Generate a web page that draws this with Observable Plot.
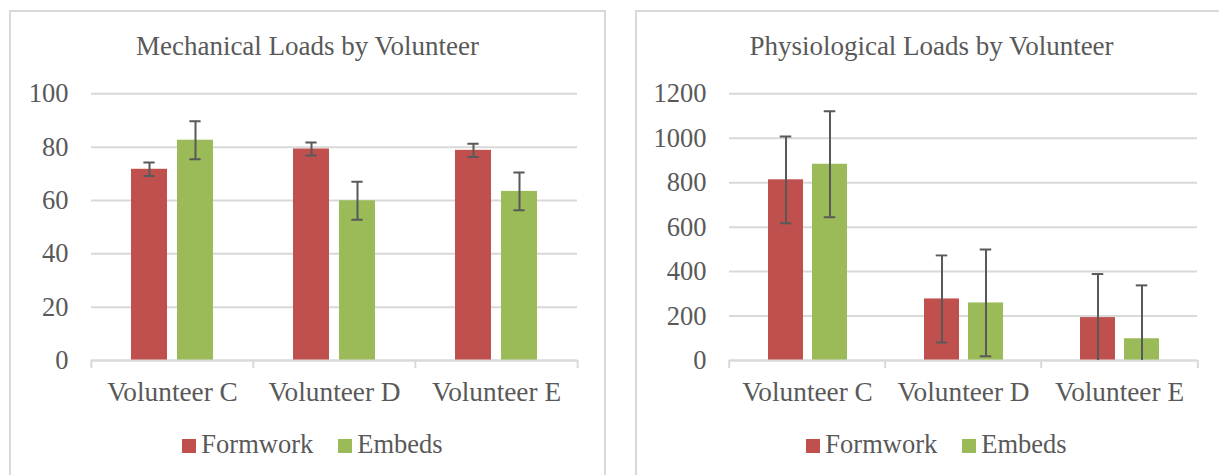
<!DOCTYPE html>
<html>
<head>
<meta charset="utf-8">
<script src="https://cdn.jsdelivr.net/npm/d3@7"></script>
<script src="https://cdn.jsdelivr.net/npm/@observablehq/plot@0.6"></script>
<style>
html, body { margin: 0; padding: 0; background: #fff; overflow: hidden; width: 1219px; height: 475px; }
body { position: relative; font-family: "Liberation Serif", Tinos, "Times New Roman", Times, "DejaVu Serif", serif; color: #595959; }
.panel { position: absolute; top: 10px; height: 480px; border: 2px solid #d9d9d9; box-sizing: border-box; background: #fff; }
.title { position: absolute; left: 0; right: 0; top: 19px; text-align: center; font-size: 27px; line-height: 30px; white-space: nowrap; }
.chart { position: absolute; left: 0; top: 58px; }
.legend { position: absolute; left: 0; right: 0; top: 417px; padding-left: 10px; text-align: center; font-size: 26.5px; line-height: 30px; white-space: nowrap; }
.item { display: inline-block; margin: 0 12.5px; }
.sw { display: inline-block; width: 14px; height: 14px; margin-right: 5px; vertical-align: baseline; }
</style>
</head>
<body>
<div class="panel" id="p1" style="left:9px;width:597px;">
  <div class="title">Mechanical Loads by Volunteer</div>
  <div class="chart" id="c1"></div>
  <div class="legend" id="l1"></div>
</div>
<div class="panel" id="p2" style="left:635px;width:593px;">
  <div class="title">Physiological Loads by Volunteer</div>
  <div class="chart" id="c2"></div>
  <div class="legend" id="l2"></div>
</div>
<script>
const volunteers = ["Volunteer C", "Volunteer D", "Volunteer E"];
const series = ["Formwork", "Embeds"];
const seriesColors = ["#c0504d", "#9bbb59"];

const mechFormwork = [71.7, 79.3, 78.8];
const mechEmbeds = [82.6, 59.9, 63.4];
const mechFormworkErr = [2.5, 2.4, 2.5];
const mechEmbedsErr = [7.1, 7.1, 7.1];
const mechTicks = [0, 20, 40, 60, 80, 100];

const physFormwork = [813, 277, 193];
const physEmbeds = [883, 259, 98];
const physFormworkErr = [195, 196, 196];
const physEmbedsErr = [239, 240, 240];
const physTicks = [0, 200, 400, 600, 800, 1000, 1200];

const FONT = '"Liberation Serif", Tinos, "Times New Roman", Times, "DejaVu Serif", serif';

function rowsFor(a, b, ea, eb) {
  return volunteers.flatMap((v, i) => [
    {volunteer: v, series: series[0], value: a[i], err: ea[i]},
    {volunteer: v, series: series[1], value: b[i], err: eb[i]}
  ]);
}

function makeChart(rows, ticks, width, ml, mr) {
  const height = 340, mt = 23.3, plotH = 266.7, mb = height - mt - plotH;
  const facetW = (width - ml - mr) / volunteers.length;
  const padIn = 0.2125, padOut = 0.845;
  const step = facetW / (series.length - padIn + 2 * padOut);
  const bw = step * (1 - padIn);
  const capInset = (bw - 12) / 2;
  const errStyle = {fx: "volunteer", x: "series", stroke: "#595959", strokeWidth: 2, clip: true};
  const tickStyle = {anchor: "bottom", tickSize: 8, tickFormat: () => "", stroke: "#d9d9d9", strokeWidth: 2, strokeOpacity: 1, label: null};
  return Plot.plot({
    width, height, marginLeft: ml, marginRight: mr, marginTop: mt, marginBottom: mb,
    style: {fontFamily: FONT, fontSize: "26.5px", color: "#595959", background: "transparent", overflow: "visible"},
    fx: {domain: volunteers, padding: 0, label: null, axis: null},
    x: {domain: series, paddingInner: padIn, paddingOuter: padOut, axis: null},
    y: {domain: [ticks[0], ticks[ticks.length - 1]], axis: null},
    color: {domain: series, range: seriesColors},
    marks: [
      Plot.gridY(ticks, {stroke: "#d9d9d9", strokeOpacity: 1, strokeWidth: 2}),
      Plot.barY(rows, {fx: "volunteer", x: "series", y: "value", fill: "series"}),
      Plot.ruleY([ticks[0]], {stroke: "#d9d9d9", strokeWidth: 2}),
      Plot.ruleX(rows, {...errStyle, y1: d => d.value - d.err, y2: d => d.value + d.err}),
      Plot.tickY(rows, {...errStyle, y: d => d.value + d.err, insetLeft: capInset, insetRight: capInset}),
      Plot.tickY(rows, {...errStyle, y: d => d.value - d.err, insetLeft: capInset, insetRight: capInset}),
      Plot.axisY(ticks, {anchor: "left", tickSize: 0, tickPadding: 23, tickFormat: d => String(d), label: null}),
      Plot.axisFx({anchor: "bottom", tickSize: 0, tickPadding: 21, fontSize: 27.3, label: null}),
      Plot.axisFx({...tickStyle, dx: -facetW / 2}),
      Plot.axisFx({...tickStyle, ticks: [volunteers[volunteers.length - 1]], dx: facetW / 2})
    ]
  });
}

function makeLegend(el) {
  series.forEach((s, i) => {
    const item = document.createElement("span");
    item.className = "item";
    const sw = document.createElement("span");
    sw.className = "sw";
    sw.style.background = seriesColors[i];
    item.appendChild(sw);
    item.appendChild(document.createTextNode(s));
    el.appendChild(item);
  });
}

document.getElementById("c1").appendChild(
  makeChart(rowsFor(mechFormwork, mechEmbeds, mechFormworkErr, mechEmbedsErr), mechTicks, 586, 79, 20));
document.getElementById("c2").appendChild(
  makeChart(rowsFor(physFormwork, physEmbeds, physFormworkErr, physEmbedsErr), physTicks, 586, 91, 25));
makeLegend(document.getElementById("l1"));
makeLegend(document.getElementById("l2"));
</script>
</body>
</html>
